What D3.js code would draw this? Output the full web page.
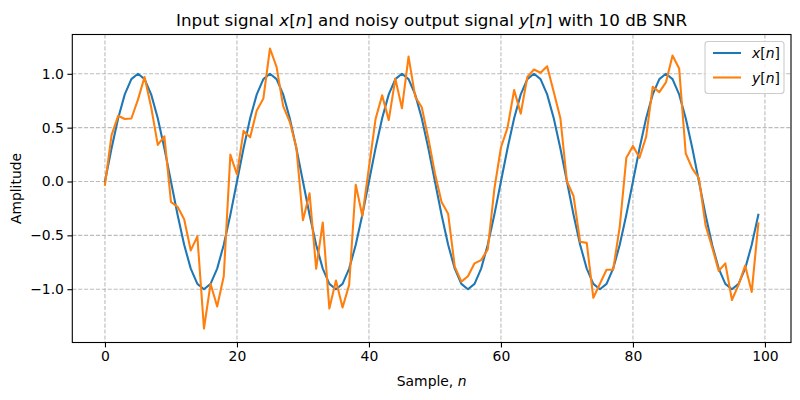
<!DOCTYPE html>
<html>
<head>
<meta charset="utf-8">
<script src="https://cdn.jsdelivr.net/npm/d3@7"></script>
<style>
  html, body { margin: 0; padding: 0; background: #fff; }
  svg { display: block; }
  text { font-family: "DejaVu Sans", sans-serif; }
</style>
</head>
<body>
<svg id="chart" width="800" height="400"></svg>
<script>
// ---- data ----
const samples = d3.range(0, 100);
const xSignal = [
  0.000, 0.309, 0.588, 0.809, 0.951, 1.000, 0.951, 0.809, 0.588, 0.309,
  0.000, -0.309, -0.588, -0.809, -0.951, -1.000, -0.951, -0.809, -0.588, -0.309,
  0.000, 0.309, 0.588, 0.809, 0.951, 1.000, 0.951, 0.809, 0.588, 0.309,
  0.000, -0.309, -0.588, -0.809, -0.951, -1.000, -0.951, -0.809, -0.588, -0.309,
  0.000, 0.309, 0.588, 0.809, 0.951, 1.000, 0.951, 0.809, 0.588, 0.309,
  0.000, -0.309, -0.588, -0.809, -0.951, -1.000, -0.951, -0.809, -0.588, -0.309,
  0.000, 0.309, 0.588, 0.809, 0.951, 1.000, 0.951, 0.809, 0.588, 0.309,
  0.000, -0.309, -0.588, -0.809, -0.951, -1.000, -0.951, -0.809, -0.588, -0.309,
  0.000, 0.309, 0.588, 0.809, 0.951, 1.000, 0.951, 0.809, 0.588, 0.309,
  0.000, -0.309, -0.588, -0.809, -0.951, -1.000, -0.951, -0.809, -0.588, -0.309
];
const ySignal = [
  -0.03, 0.43, 0.61, 0.58, 0.585, 0.76, 0.97, 0.69, 0.34, 0.42,
  -0.19, -0.235, -0.35, -0.64, -0.51, -1.365, -0.95, -1.16, -0.88, 0.25,
  0.065, 0.47, 0.41, 0.66, 0.77, 1.235, 1.065, 0.70, 0.555, 0.316,
  -0.36, -0.11, -0.81, -0.38, -1.18, -0.92, -1.17, -0.96, -0.03, -0.32,
  0.13, 0.58, 0.80, 0.57, 0.955, 0.68, 1.16, 0.79, 0.69, 0.40,
  0.075, -0.19, -0.30, -0.79, -0.93, -0.88, -0.76, -0.73, -0.63, -0.07,
  0.316, 0.50, 0.85, 0.63, 0.97, 1.04, 1.01, 1.07, 0.83, 0.59,
  0.00, -0.135, -0.56, -0.57, -1.08, -0.95, -0.82, -0.82, -0.42, 0.22,
  0.33, 0.22, 0.415, 0.88, 0.83, 0.92, 1.17, 1.05, 0.26, 0.12,
  0.03, -0.405, -0.61, -0.83, -0.76, -1.10, -0.96, -0.78, -1.025, -0.39
];
const xTicks = [0, 20, 40, 60, 80, 100];
const yTicks = [-1.0, -0.5, 0.0, 0.5, 1.0];

// ---- layout ----
const L = 72.3, R = 791, T = 34.5, B = 342.5;
const svg = d3.select("#chart");

const xExt = d3.extent(samples);
const xPad = (xExt[1] - xExt[0]) * 0.05;
const allY = xSignal.concat(ySignal);
const yExt = d3.extent(allY);
const yPad = (yExt[1] - yExt[0]) * 0.05;

const x = d3.scaleLinear().domain([xExt[0] - xPad, xExt[1] + xPad]).range([L, R]);
const y = d3.scaleLinear().domain([yExt[0] - yPad, yExt[1] + yPad]).range([B, T]);

// grid
const grid = svg.append("g");
xTicks.forEach(t => {
  grid.append("line").attr("x1", x(t)).attr("x2", x(t)).attr("y1", T).attr("y2", B)
    .attr("stroke", "#b0b0b0").attr("stroke-opacity", 0.85).attr("stroke-width", 1.1)
    .attr("stroke-dasharray", "4.1,1.8");
});
yTicks.forEach(t => {
  grid.append("line").attr("y1", y(t)).attr("y2", y(t)).attr("x1", L).attr("x2", R)
    .attr("stroke", "#b0b0b0").attr("stroke-opacity", 0.85).attr("stroke-width", 1.1)
    .attr("stroke-dasharray", "4.1,1.8");
});

// lines
const clip = svg.append("clipPath").attr("id", "clip").append("rect")
  .attr("x", L).attr("y", T).attr("width", R - L).attr("height", B - T);
const lineX = d3.line().x((d, i) => x(samples[i])).y(d => y(d));
svg.append("path").datum(xSignal).attr("d", lineX)
  .attr("fill", "none").attr("stroke", "#1f77b4").attr("stroke-width", 2.08)
  .attr("stroke-linejoin", "round").attr("stroke-linecap", "square")
  .attr("clip-path", "url(#clip)");
svg.append("path").datum(ySignal).attr("d", lineX)
  .attr("fill", "none").attr("stroke", "#ff7f0e").attr("stroke-width", 2.08)
  .attr("stroke-linejoin", "round").attr("stroke-linecap", "square")
  .attr("clip-path", "url(#clip)");

// axes
const xAxis = d3.axisBottom(x).tickValues(xTicks).tickSize(4.9).tickPadding(3.5)
  .tickFormat(d3.format("d"));
const gx = svg.append("g").attr("transform", `translate(0,${B})`).call(xAxis);
const yAxis = d3.axisLeft(y).tickValues(yTicks).tickSize(4.9).tickPadding(3.5)
  .tickFormat(d3.format(".1f"));
const gy = svg.append("g").attr("transform", `translate(${L},0)`).call(yAxis);
[gx, gy].forEach(g => {
  g.select(".domain").remove();
  g.selectAll(".tick line").attr("stroke", "#000").attr("stroke-width", 1.1);
  g.selectAll(".tick text").attr("fill", "#000")
    .style("font-family", "DejaVu Sans").style("font-size", "13.9px");
});
gy.selectAll(".tick text").text(d => d3.format(".1f")(d).replace("-", "\u2212"));

// frame
svg.append("rect").attr("x", L).attr("y", T).attr("width", R - L).attr("height", B - T)
  .attr("fill", "none").attr("stroke", "#000").attr("stroke-width", 1.1);

// title
const title = svg.append("text").attr("x", (L + R) / 2).attr("y", 26)
  .attr("text-anchor", "middle").style("font-size", "16.7px").attr("fill", "#000");
const parts = [
  ["Input signal ", false], ["x", true], ["[", false], ["n", true], ["] and noisy output signal ", false],
  ["y", true], ["[", false], ["n", true], ["] with 10 dB SNR", false]
];
parts.forEach(p => title.append("tspan").text(p[0]).style("font-style", p[1] ? "italic" : "normal"));

// axis labels
const xl = svg.append("text").attr("x", (L + R) / 2).attr("y", 385.5)
  .attr("text-anchor", "middle").style("font-size", "13.9px").attr("fill", "#000");
xl.append("tspan").text("Sample, ");
xl.append("tspan").text("n").style("font-style", "italic");

svg.append("text").attr("transform", `translate(21,${(T + B) / 2}) rotate(-90)`)
  .attr("text-anchor", "middle").style("font-size", "13.9px").attr("fill", "#000")
  .text("Amplitude");

// legend
const legItems = [["x", "#1f77b4"], ["y", "#ff7f0e"]];
const lg = svg.append("g");
lg.append("rect").attr("x", 705).attr("y", 41.5).attr("width", 79).attr("height", 52)
  .attr("rx", 3).attr("fill", "#fff").attr("fill-opacity", 0.8)
  .attr("stroke", "#cccccc").attr("stroke-width", 1.1);
legItems.forEach((it, i) => {
  const cy = 53 + i * 24.5;
  lg.append("line").attr("x1", 713).attr("x2", 741).attr("y1", cy).attr("y2", cy)
    .attr("stroke", it[1]).attr("stroke-width", 2.08);
  const t = lg.append("text").attr("x", 752).attr("y", cy + 5)
    .style("font-size", "13.9px").attr("fill", "#000");
  t.append("tspan").text(it[0]).style("font-style", "italic");
  t.append("tspan").text("[");
  t.append("tspan").text("n").style("font-style", "italic");
  t.append("tspan").text("]");
});
</script>
</body>
</html>
